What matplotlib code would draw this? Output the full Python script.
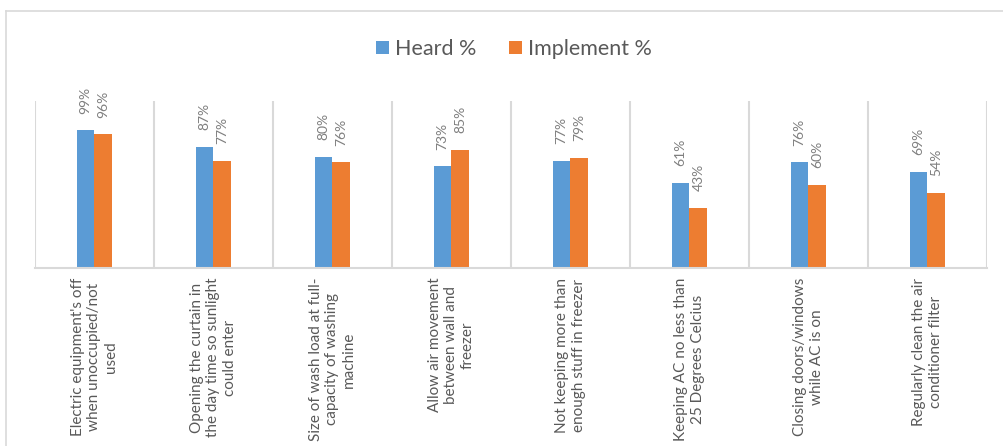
import numpy as np
import matplotlib.pyplot as plt
from matplotlib.lines import Line2D

plt.rcParams['font.family'] = ['Lato', 'DejaVu Sans']

# data
categories = [
    "Electric equipment's off\nwhen unoccupied/not\nused",
    "Opening the curtain in\nthe day time so sunlight\ncould enter",
    "Size of wash load at full-\ncapacity of washing\nmachine",
    "Allow air movement\nbetween wall and\nfreezer",
    "Not keeping more than\nenough stuff in freezer",
    "Keeping AC no less than\n25 Degrees Celcius",
    "Closing doors/windows\nwhile AC is on",
    "Regularly clean the air\nconditioner filter",
]
heard = [99, 87, 80, 73, 77, 61, 76, 69]
implement = [96, 77, 76, 85, 79, 43, 60, 54]

blue = '#5B9BD5'
orange = '#ED7D31'
grid_col = '#D9D9D9'
text_col = '#595959'

W, H = 1004, 446
fig = plt.figure(figsize=(W / 100, H / 100), dpi=100)

# outer chart border (only top and left are inside the picture)
fig.add_artist(Line2D([6 / W, 6 / W], [0, 1 - 11 / H], color=grid_col, lw=1.2))
fig.add_artist(Line2D([6 / W, 1], [1 - 11 / H, 1 - 11 / H], color=grid_col, lw=1.2))

ax = fig.add_axes([35 / W, (H - 268) / H, (987 - 35) / W, (268 - 101) / H])

x = np.arange(len(categories))
w = 0.15
b1 = ax.bar(x - w / 2, heard, w, color=blue, label='Heard %')
b2 = ax.bar(x + w / 2, implement, w, color=orange, label='Implement %')

for bars in (b1, b2):
    ax.bar_label(bars, labels=[f'{v}%' for v in bars.datavalues],
                 rotation=90, padding=12, fontsize=10, color='#7F7F7F')

ax.set_xlim(-0.5, len(categories) - 0.5)
ax.set_ylim(0, 120)
ax.set_yticks([])

ax.set_xticks(x)
ax.set_xticklabels(categories, rotation=90, ha='center', va='top',
                   multialignment='center', fontsize=11, color=text_col,
                   linespacing=1.22)
ax.tick_params(axis='x', which='major', length=0, pad=7)
ax.set_xticks(np.arange(len(categories) + 1) - 0.5, minor=True)
ax.tick_params(axis='x', which='minor', length=0)
ax.grid(which='minor', axis='x', color=grid_col, lw=1.5)
ax.set_axisbelow(True)

for s in ('top', 'right', 'left'):
    ax.spines[s].set_visible(False)
ax.spines['bottom'].set_color(grid_col)
ax.spines['bottom'].set_linewidth(1.5)

leg = fig.legend(loc='center', bbox_to_anchor=(514 / W, 1 - 49 / H), ncol=2,
                 frameon=False, fontsize=15.5, handlelength=0.6, handleheight=0.6,
                 handletextpad=0.3, columnspacing=1.5)
for t in leg.get_texts():
    t.set_color(text_col)

fig.savefig('out.png', dpi=100)
